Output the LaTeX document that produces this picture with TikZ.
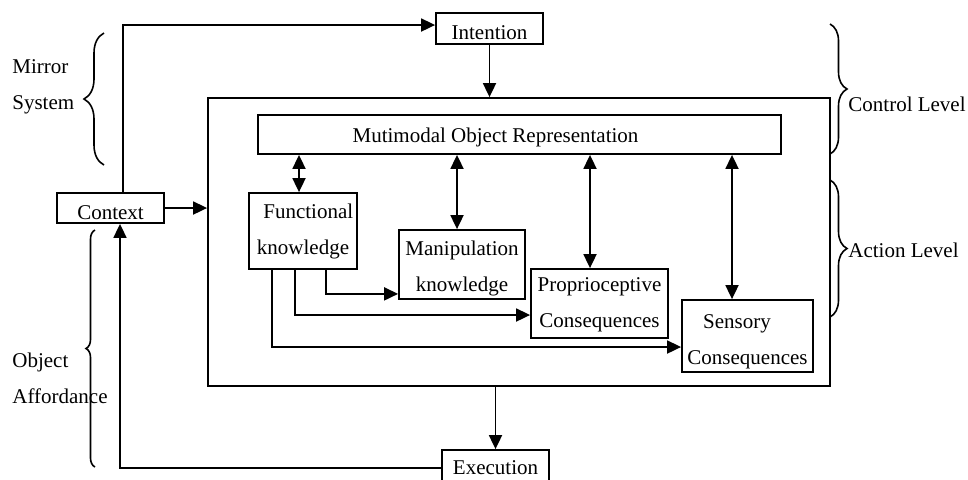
\documentclass[tikz,border=0pt]{standalone}
\usepackage{fontspec}
\setmainfont{Liberation Serif}
\usetikzlibrary{
  arrows.meta,
  positioning,
  decorations.pathreplacing
}
\newcommand{\padtop}[1]{\rule{0pt}{#1}}

\begin{document}
\begin{tikzpicture}[
    x=0.5pt, y=-0.5pt,
    box/.style={
      rectangle, draw, line width=0.9pt, inner sep=0pt,
      font=\fontsize{10.5}{18}\selectfont, align=center
    },
    arrow/.style={-{Triangle[length=7pt,width=6.5pt]}, line width=0.9pt},
    dblarrow/.style={{Triangle[length=7pt,width=6.5pt]}-{Triangle[length=7pt,width=6.5pt]}, line width=0.9pt},
    brace/.style={decorate, decoration={brace, amplitude=#1}, line width=0.8pt},
    tag/.style={font=\fontsize{10.5}{18}\selectfont, align=left, anchor=west, inner sep=0pt}
  ]
  \useasboundingbox (0,0) rectangle (968,479);
  \clip (0,0) rectangle (968,479);

  % boxes
  \node[box, minimum width=53.5pt, minimum height=15.5pt] (intention) at (489.5,28.5) {\padtop{10.7pt}Intention};
  \node[box, minimum width=53.5pt, minimum height=15pt] (context) at (110.5,208) {\padtop{11.7pt}Context};
  \node[box, minimum width=311pt, minimum height=144pt] (ctrl) at (519,242) {};
  \node[box, minimum width=261.5pt, minimum height=19.5pt] (mor) at (519.5,134.5) {\padtop{10.7pt}Mutimodal Object Representation\hspace*{24pt}};
  \node[box, minimum width=54pt, minimum height=38pt] (func) at (303,231) {\ \ Functional\\knowledge};
  \node[box, minimum width=63pt, minimum height=34.5pt] (manip) at (462,264.5) {\padtop{11.7pt}Manipulation\\knowledge};
  \node[box, minimum width=68.5pt, minimum height=34.5pt] (proprio) at (599.5,303.5) {\padtop{8.7pt}Proprioceptive\\Consequences};
  \node[box, minimum width=65.5pt, minimum height=36pt] (sensory) at (747.5,336) {\padtop{12.7pt}\hspace*{-10.5pt}Sensory\\Consequences};
  \node[box, minimum width=53.5pt, minimum height=18pt] (execution) at (495.5,468) {Execution};

  % outer loop
  \draw[arrow] ([xshift=6.25pt]context.north) |- ([yshift=1.75pt]intention.west);
  \draw[arrow] (intention.south) -- (intention.south |- ctrl.north);
  \draw[arrow] (context.east) -- (context.east -| ctrl.west);
  \draw[arrow] (execution.north |- ctrl.south) -- (execution.north);
  \draw[arrow] (execution.west) -| ([xshift=4.75pt]context.south);

  % representation links
  \draw[dblarrow] ([xshift=-2pt]func.north |- mor.south) -- ([xshift=-2pt]func.north);
  \draw[dblarrow] ([xshift=-2.5pt]manip.north |- mor.south) -- ([xshift=-2.5pt]manip.north);
  \draw[dblarrow] ([xshift=-4.75pt]proprio.north |- mor.south) -- ([xshift=-4.75pt]proprio.north);
  \draw[dblarrow] ([xshift=-7.75pt]sensory.north |- mor.south) -- ([xshift=-7.75pt]sensory.north);

  % knowledge flow
  \draw[arrow] ([xshift=11.5pt]func.south) |- ([yshift=3pt]manip.south west);
  \draw[arrow] ([xshift=-4pt]func.south) |- ([yshift=-5.75pt]proprio.west);
  \draw[arrow] ([xshift=-15.5pt]func.south) |- ([yshift=-5.5pt]sensory.west);

  % braces
  \draw[brace=10pt] (104,165) -- (104,33);
  \draw[brace=4.5pt] (95,467) -- (95,230);
  \draw[brace=8.5pt] (830,24) -- (830,154);
  \draw[brace=8.5pt] (830,180) -- (830,317);

  \node[tag] (mirror) at (12,87) {Mirror\\System};
  \node[tag] (afford) at (12,378) {Object\\Affordance};
  \node[tag] (control) at (848,104) {Control Level};
  \node[tag] (action) at (848,250) {Action Level};
\end{tikzpicture}
\end{document}
